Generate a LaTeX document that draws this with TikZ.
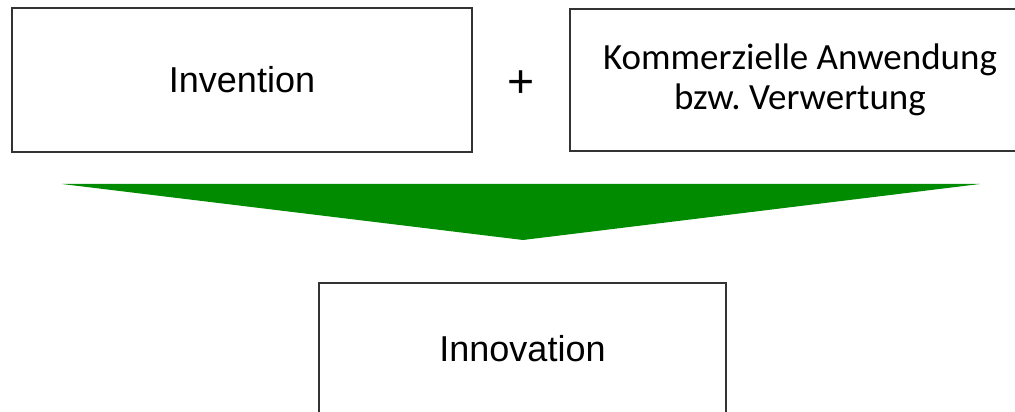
\documentclass[tikz,border=0pt]{standalone}
\usepackage{fontspec}
\setmainfont{Liberation Sans}
\newfontfamily\calibri{Carlito}
\usetikzlibrary{positioning}
\definecolor{arrowgreen}{RGB}{0,139,0}
\tikzset{
  box/.style={draw=black!80, line width=1.4pt, minimum width=11.5cm, align=center, inner sep=0pt},
  boxtext/.style={font=\fontsize{25.6}{30}\selectfont}
}
\begin{document}
\begin{tikzpicture}[x=0.025cm, y=-0.025cm]
		\useasboundingbox (0,0) rectangle (1015,412);
		\clip (0,0) rectangle (1015,412);
		\node[box, boxtext, minimum height=3.6cm] (invention) at (242,80) {Invention};
		\node[font=\fontsize{33}{36}\selectfont] (plus) at (521,84) {+};
		\node[box, minimum height=3.55cm, font=\calibri\fontsize{26.3}{28.4}\selectfont] (application) at (800,80) {Kommerzielle Anwendung\\bzw.\ Verwertung};
		\node[box, boxtext, minimum width=10.175cm, minimum height=3.3cm] (innovation) at (522.5,349) {Innovation};

		% green arrow head
		\coordinate (tipleft) at (62,184);
		\coordinate (tipright) at (980,184);
		\coordinate (tip) at (523,240);
		\fill[arrowgreen] (tipleft) -- (tipright) -- (tip) -- cycle;
\end{tikzpicture}
\end{document}
